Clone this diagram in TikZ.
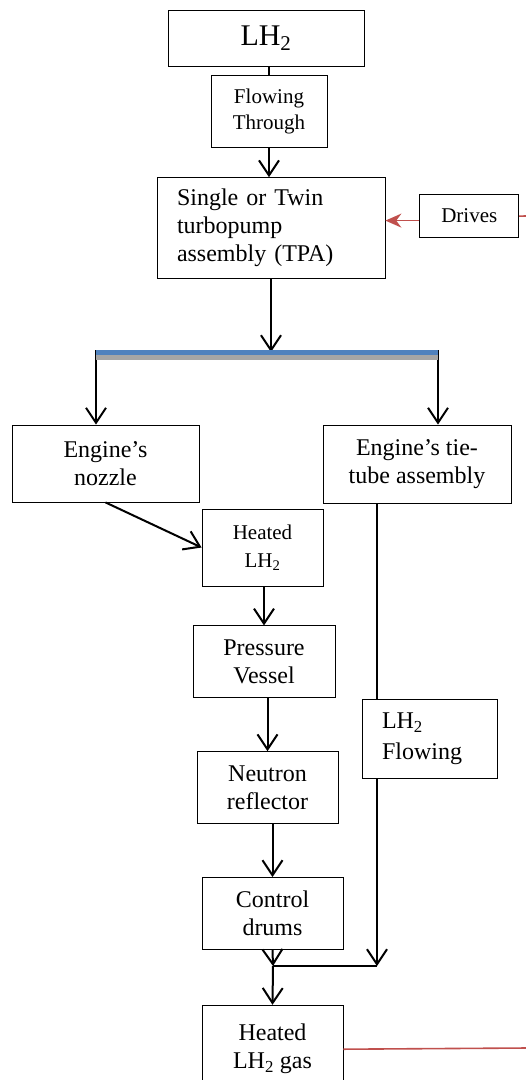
\documentclass[tikz,border=0pt]{standalone}
\usepackage{fontspec}
\setmainfont{Liberation Serif}
\usetikzlibrary{arrows.meta, positioning, calc}
\usepackage{xcolor}
\definecolor{barblue}{RGB}{79,129,189}
\definecolor{bargray}{RGB}{165,165,165}
\definecolor{drivered}{RGB}{192,80,77}

\begin{document}
\begin{tikzpicture}[
    x=1pt, y=1pt,
    box/.style={
        rectangle, draw, line width=0.8pt, align=center, inner sep=3pt, font=\fontsize{24}{28}\selectfont
    },
    smallbox/.style={
        box, font=\fontsize{21}{26}\selectfont
    },
    leftbox/.style={
        box, align=left, text width=#1, inner xsep=20pt
    },
    feed/.style={
        draw, line width=2pt, -{Straight Barb[length=15pt, width=20pt]}
    },
    pipe/.style={
        draw, line width=2pt
    },
    drive/.style={
        draw, drivered, line width=1.6pt
    }
]
    \useasboundingbox (0,0) rectangle (526,-1080);

    % --- nodes ---
    \node [box, minimum width=196pt, minimum height=56pt, font=\fontsize{30}{34}\selectfont] (lh2) at (266,-38) {LH\textsubscript{2}};
    \node [smallbox, below=9pt of lh2, xshift=3pt, minimum width=116pt, minimum height=72pt] (through) {Flowing\\Through};
    \node [leftbox=188pt, below=29pt of through, xshift=2pt, minimum height=101pt] (tpa) {Single or Twin\\turbopump\\assembly (TPA)};
    \node [smallbox, right=34pt of tpa, yshift=12pt, minimum width=99pt, minimum height=43pt] (drives) {Drives};
    \node [box, minimum width=187pt, minimum height=77pt] (nozzle) at (105.5,-463.5) {Engine’s\\nozzle};
    \node [box, minimum width=188pt, minimum height=78pt] (tie) at (417,-464) {Engine’s tie-\\tube assembly};
    \node [smallbox, minimum width=121pt, minimum height=77pt, font=\fontsize{21}{28}\selectfont] (heated) at (262.5,-547.5) {Heated\\LH\textsubscript{2}};
    \node [box, below=39pt of heated, xshift=1.5pt, minimum width=142pt, minimum height=72pt] (vessel) {Pressure\\Vessel};
    \node [box, below=53pt of vessel, xshift=3.5pt, minimum width=141pt, minimum height=72pt] (reflector) {Neutron\\reflector};
    \node [box, below=53pt of reflector, xshift=5pt, minimum width=141pt, minimum height=72pt] (drums) {Control\\drums};
    \node [box, below=55pt of drums, minimum width=141pt, minimum height=88pt] (gas) {Heated\\LH\textsubscript{2} gas};
    \node [leftbox=95pt, minimum height=79pt, font=\fontsize{24}{31}\selectfont] (lhflow) at (429.5,-738.5) {LH\textsubscript{2}\\Flowing};

    \coordinate (barL) at (96,-352);
    \coordinate (barR) at (438,-352);
    \coordinate (merge) at (273,-966);
    \coordinate (pipetop) at ([xshift=-40pt]tie.south);
    \coordinate (driveout) at (527,-216);
    \coordinate (gasout) at (527,-1048);

    % --- connectors ---
    \path [pipe] (through.north |- lh2.south) -- (through.north);
    \path [feed] (through.south) -- (through.south |- tpa.north);
    \path [drive, -{Stealth[length=16pt, width=14pt]}] ([yshift=-4.5pt]drives.west) -- ([yshift=-4.5pt]drives.west -| tpa.east);
    \path [drive] (drives.east) -- (driveout);
    \path [feed] (tpa.south) -- (tpa.south |- barL);
    \path [feed] ([yshift=2pt]barL) -- (barL |- nozzle.north);
    \path [feed] ([yshift=2pt]barR) -- (barR |- tie.north);
    \path [draw, bargray, line width=4.5pt] ([yshift=-5.5pt]barL) -- ([yshift=-5.5pt]barR);
    \path [draw, barblue, line width=5pt] (barL) -- (barR);
    \path [feed] (nozzle.south) -- (heated.west);
    \path [feed] (vessel.north |- heated.south) -- (vessel.north);
    \path [feed] (reflector.north |- vessel.south) -- (reflector.north);
    \path [feed] (drums.north |- reflector.south) -- (drums.north);
    \path [feed] (drums.south) -- (merge);
    \path [pipe] (pipetop) -- (pipetop |- lhflow.north);
    \path [feed] (pipetop |- lhflow.south) -- (pipetop |- merge);
    \path [pipe] (merge) -- (pipetop |- merge);
    \path [feed] (merge) -- (gas.north);
    \path [drive] (gas.east) -- (gasout);

\end{tikzpicture}
\end{document}
